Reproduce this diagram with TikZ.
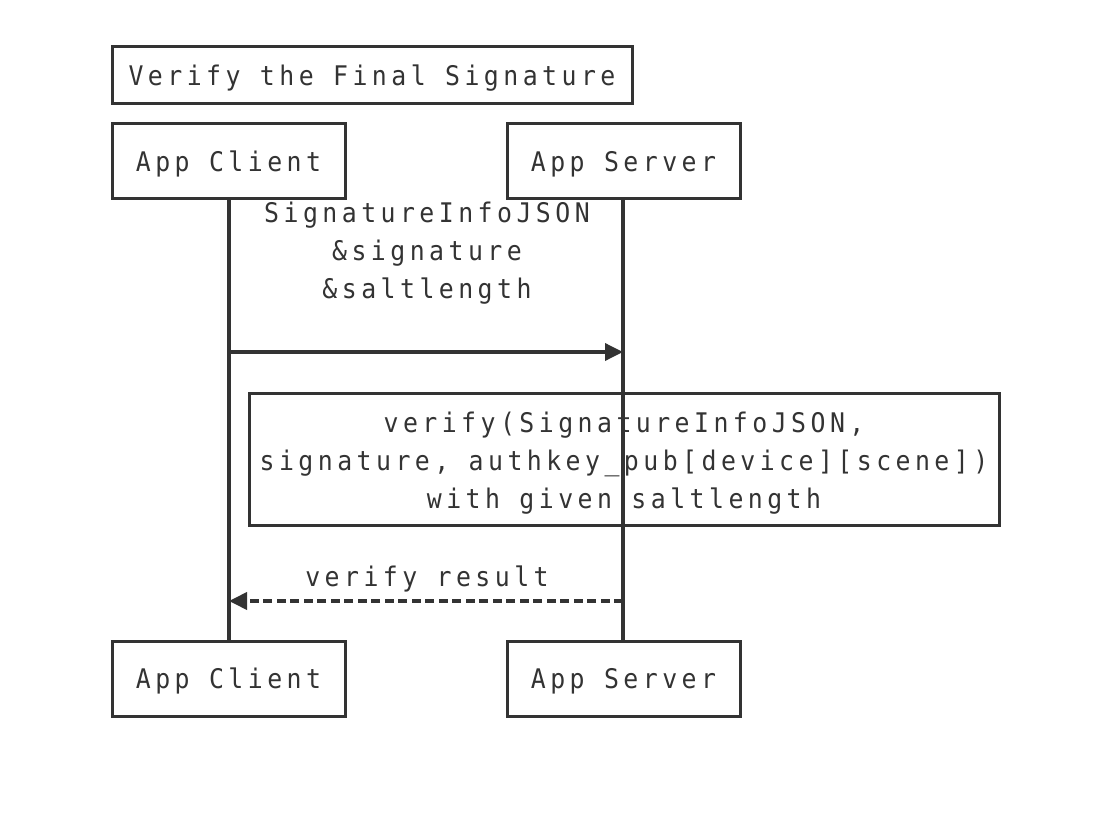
\documentclass[tikz,border=0pt]{standalone}
\usepackage{fontspec}
\setmonofont[FakeStretch=0.92,LetterSpace=16.5]{DejaVu Sans Mono}
\usetikzlibrary{arrows.meta}
\definecolor{ink}{HTML}{333333}
\tikzset{
  actor/.style={draw=ink, line width=3pt, minimum width=233pt, minimum height=75pt, inner sep=0pt, text=ink, text height=19.7pt, text depth=0pt},
  titlebox/.style={draw=ink, line width=3pt, minimum width=520pt, minimum height=57pt, inner sep=0pt, text=ink, text height=19.7pt, text depth=0pt},
  notebox/.style={draw=ink, line width=3pt, minimum width=750pt, minimum height=132pt, inner sep=0pt},
  lbl/.style={text=ink, align=center, inner sep=0pt},
  life/.style={draw=ink, line width=3.2pt},
  msg/.style={draw=ink, line width=3.5pt, -{Triangle[length=18pt,width=17pt]}},
  ret/.style={draw=ink, line width=3.8pt, dash pattern=on 9pt off 4.5pt, -{Triangle[length=18pt,width=17pt]}},
}
\begin{document}
\begin{tikzpicture}[x=1pt,y=-1pt,font=\ttfamily\fontsize{27}{38}\selectfont]
\useasboundingbox (0,0) rectangle (1116,818);
\node[titlebox] (title) at (372,75.5) {Verify the Final Signature};
\node[actor] (ct) at (228.5,161.5) {App Client};
\node[actor] (st) at (623.5,161.5) {App Server};
\node[actor] (cb) at (228.5,679) {App Client};
\node[actor] (sb) at (623.5,679) {App Server};
\draw[life] (ct.south -| 229,0) -- (cb.north -| 229,0);
\draw[life] (st.south -| 623,0) -- (sb.north -| 623,0);
\coordinate (m1a) at (229,352);
\coordinate (m1b) at (623,352);
\coordinate (m2a) at (623,601);
\coordinate (m2b) at (229,601);
\node[lbl] (l1) at (427,253.5) {SignatureInfoJSON\\\&signature\\\&saltlength};
\draw[msg] (m1a) -- (m1b);
\node[notebox] (note) at (624,459) {};
\node[lbl] (notetext) at (624,463) {verify(SignatureInfoJSON,\\signature, authkey\_pub[device][scene])\\with given saltlength};
\node[lbl] (l2) at (427,579) {verify result};
\draw[ret] (m2a) -- (m2b);
\end{tikzpicture}
\end{document}
